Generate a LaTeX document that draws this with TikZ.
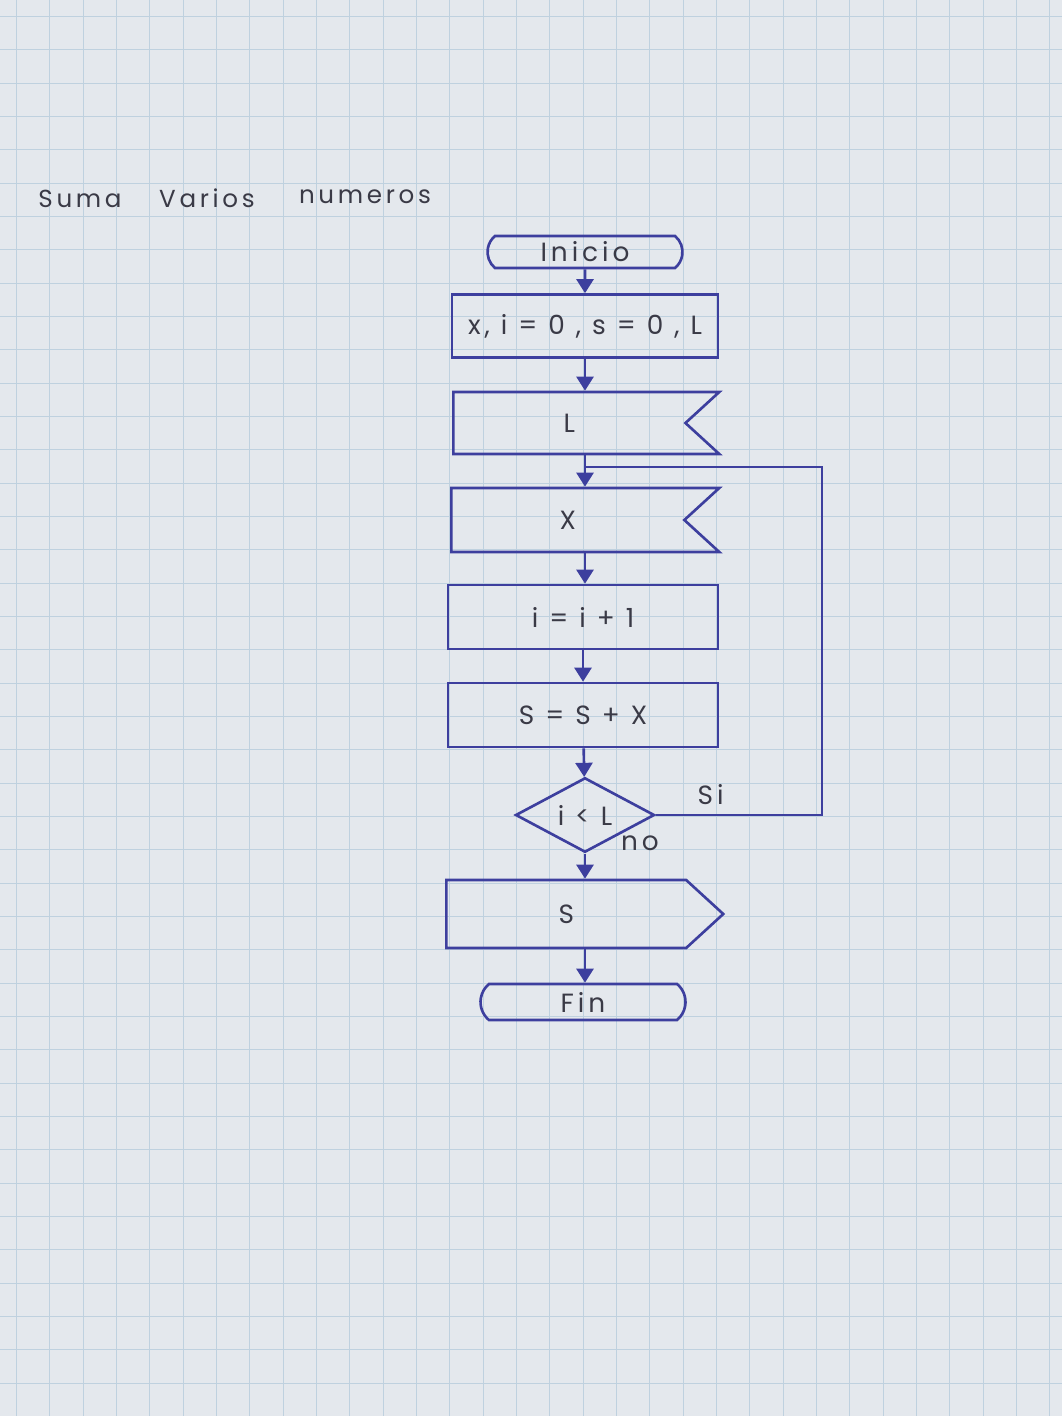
\documentclass[tikz,border=0pt]{standalone}
\usepackage{fontspec}
\usepackage{tikz}
\usetikzlibrary{shapes.misc,shapes.symbols,shapes.geometric,arrows.meta}
\newfontfamily\handfont[LetterSpace=15]{Poppins}
\definecolor{ink}{HTML}{3D3F9E}
\definecolor{pencil}{HTML}{3A3A46}
\definecolor{paper}{HTML}{E4E8ED}
\definecolor{gridline}{HTML}{BFD1DF}

\begin{document}
\begin{tikzpicture}[x=0.02cm,y=-0.02cm,line width=1.5pt,
    flow/.style={draw=ink,-{Triangle[length=2.8mm,width=3.4mm]}},
    txt/.style={text=pencil,font=\handfont\fontsize{15}{15}\selectfont},
    proc/.style={draw=ink,rectangle,inner sep=0pt,txt},
    term/.style={draw=ink,rounded rectangle,rounded rectangle arc length=100,inner sep=0pt,txt},
    inbox/.style={draw=ink,signal,signal to=nowhere,signal from=east,signal pointer angle=85,inner sep=0pt,txt},
    outbox/.style={draw=ink,signal,signal to=east,signal pointer angle=85,inner sep=0pt,txt},
    cond/.style={draw=ink,diamond,inner sep=0pt,txt}]

    % paper
    \fill[paper] (0,0) rectangle (1062,1416);
    \useasboundingbox (0,0) rectangle (1062,1416);
    \foreach \g in {0,...,31} {
        \draw[gridline,line width=0.5pt] (16.4+33.33*\g,0) -- (16.4+33.33*\g,1416);
    }
    \foreach \g in {0,...,42} {
        \draw[gridline,line width=0.5pt] (0,16.4+33.33*\g) -- (1062,16.4+33.33*\g);
    }

    % title
    \node[txt,font=\handfont\fontsize{14}{14}\selectfont] (t1) at (80,199) {Suma};
    \node[txt,font=\handfont\fontsize{14}{14}\selectfont] (t2) at (207,198) {Varios};
    \node[txt,font=\handfont\fontsize{14}{14}\selectfont] (t3) at (365,197) {numeros};

    % blocks
    \node[term,minimum width=3.9cm,minimum height=0.64cm] (inicio) at (585,252) {Inicio};
    \node[proc,minimum width=5.32cm,minimum height=1.26cm] (datos) at (585,326) {x, i = 0 , s = 0 , L};
    \node[inbox,minimum width=5.32cm,minimum height=1.24cm,anchor=west] (leeL) at (452,423) {L};
    \node[inbox,minimum width=5.36cm,minimum height=1.28cm,anchor=west] (leeX) at (450,520) {X};
    \node[proc,minimum width=5.40cm,minimum height=1.28cm] (cont) at (583,617) {i = i + 1};
    \node[proc,minimum width=5.40cm,minimum height=1.28cm] (acum) at (583,715) {S = S + X};
    \node[cond,minimum width=2.78cm,minimum height=1.32cm] (prueba) at (585,815) {i < L};
    \node[outbox,minimum width=5.54cm,minimum height=1.36cm,anchor=west] (muestra) at (445,914) {S};
    \node[term,minimum width=4.1cm,minimum height=0.72cm] (fin) at (583,1002) {Fin};

    \coordinate (join) at (585,467);
    \coordinate (rgt) at (822,0);

    % connectors
    \draw[flow] (inicio) -- (datos);
    \draw[flow] (datos.south) -- (datos.south |- leeL.north);
    \draw[flow] (datos.south |- leeL.south) -- (datos.south |- leeX.north);
    \draw[flow] (datos.south |- leeX.south) -- (datos.south |- cont.north);
    \draw[flow] (cont) -- (acum);
    \draw[flow] (acum) -- (prueba);
    \draw[flow] (prueba.south) -- (prueba.south |- muestra.north);
    \draw[flow] (prueba.south |- muestra.south) -- (prueba.south |- fin.north);
    \draw[ink] (prueba.east) -- node[txt,above=2pt,pos=0.33] (si) {Si} (prueba.east -| rgt) |- (join);
    \node[txt] (no) at (640,843) {no};
\end{tikzpicture}
\end{document}
